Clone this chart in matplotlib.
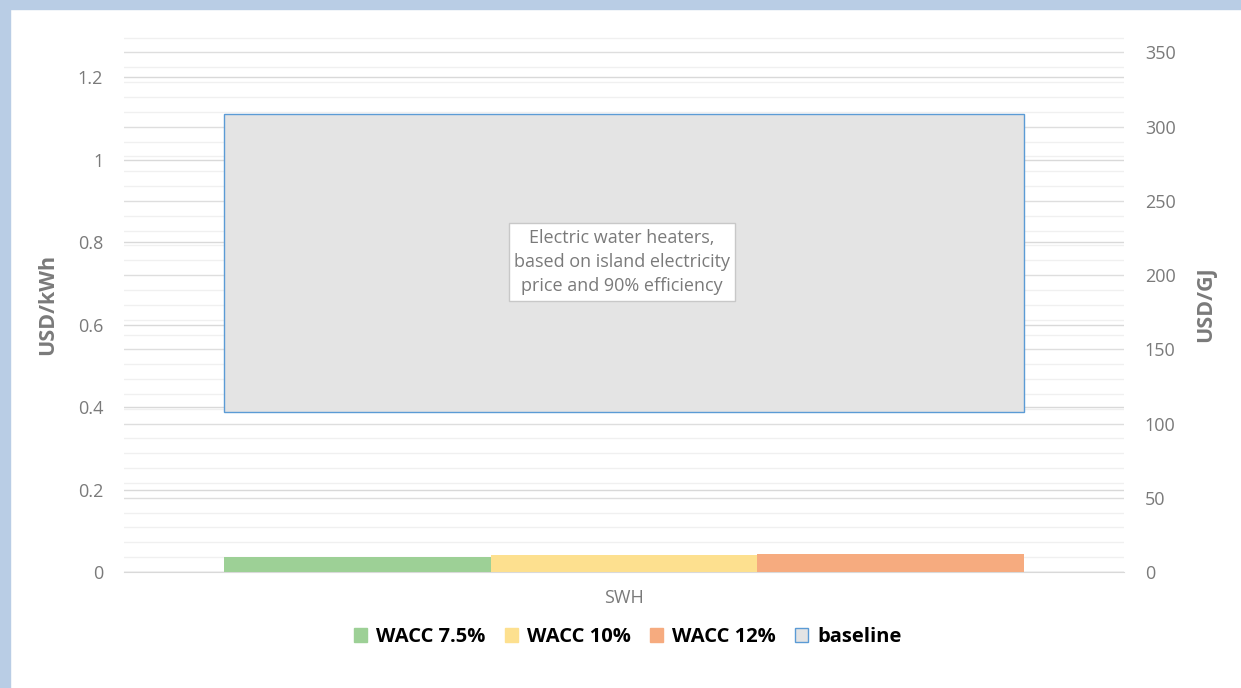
import matplotlib
matplotlib.use("Agg")
import matplotlib.pyplot as plt
from matplotlib.patches import Rectangle, Patch
from matplotlib.ticker import MultipleLocator
import numpy as np

# data
category = ["SWH"]
series = ["WACC 7.5%", "WACC 10%", "WACC 12%"]
lcoh_usd_kwh = [0.036, 0.041, 0.044]
baseline_low = 0.388
baseline_high = 1.110
box_text = "Electric water heaters,\nbased on island electricity\nprice and 90% efficiency"

colors = ["#9dd096", "#fde08f", "#f6ab7f"]
gray = "#7a7a7a"
kwh_per_gj = 1 / 0.0036

plt.rcParams['font.family'] = ['Open Sans', 'DejaVu Sans']

fig = plt.figure(figsize=(12.41, 6.88), dpi=100)
# light blue frame on top and left
fig.patches.append(Rectangle((0, 0), 10 / 1241, 1, transform=fig.transFigure,
                             color="#b9cde5", zorder=0))
fig.patches.append(Rectangle((0, 1 - 9 / 688), 1, 9 / 688, transform=fig.transFigure,
                             color="#b9cde5", zorder=0))

ax = fig.add_axes([124 / 1241, 1 - 572 / 688, 1000 / 1241, 536 / 688])
ax2 = ax.twinx()

ymax = 1.3
ax.set_xlim(-0.5, 0.5)
ax.set_ylim(0, ymax)
ax2.set_ylim(0, ymax * kwh_per_gj)

# gridlines: right minor, right major, left major
ax2.yaxis.set_major_locator(MultipleLocator(50))
ax2.yaxis.set_minor_locator(MultipleLocator(10))
ax2.grid(which="minor", color="#f0f0f0", lw=1.0)
ax2.grid(which="major", color="#dedede", lw=1.0)
ax.yaxis.set_major_locator(MultipleLocator(0.2))
ax.grid(axis="y", which="major", color="#d9d9d9", lw=1.0)
ax.set_axisbelow(True)
ax2.set_zorder(0)
ax.set_zorder(1)
ax.patch.set_visible(False)

w = 0.8 / len(series)
xs = np.arange(len(series)) * w - 0.4 + w / 2
for x, v, c, lab in zip(xs, lcoh_usd_kwh, colors, series):
    ax.bar(x, v, width=w, color=c, label=lab, zorder=3)
ax.bar(0, baseline_high - baseline_low, bottom=baseline_low, width=0.8,
       color="#e4e4e4", edgecolor="#5b9bd5", lw=1.0, label="baseline", zorder=2)

ax.text(-0.002, 0.752, box_text, ha="center", va="center", fontsize=13, color=gray,
        linespacing=1.45, zorder=4,
        bbox=dict(boxstyle="square,pad=0.3", fc="white", ec="#c8c8c8", lw=1.0))

for a in (ax, ax2):
    for s in a.spines.values():
        s.set_visible(False)
    a.tick_params(axis="y", length=0, labelsize=13, labelcolor=gray, pad=15)
    a.tick_params(axis="y", which="minor", length=0)
ax.spines["bottom"].set_visible(True)
ax.spines["bottom"].set_color("#d9d9d9")
ax.set_xticks([0])
ax.set_xticklabels(category)
ax.tick_params(axis="x", length=0, labelsize=13, labelcolor=gray, pad=12)
ax.yaxis.set_major_formatter(matplotlib.ticker.FuncFormatter(
    lambda v, p: "0" if v == 0 else ("1" if abs(v - 1) < 1e-9 else f"{v:.1f}")))
ax.set_yticks(np.arange(0, 1.21, 0.2))
ax2.set_yticks(np.arange(0, 351, 50))

ax.set_ylabel("USD/kWh", fontsize=15.5, fontweight="bold", color=gray, labelpad=14)
ax2.set_ylabel("USD/GJ", fontsize=15.5, fontweight="bold", color=gray, rotation=90,
               labelpad=14)

handles = [Patch(fc=c, ec=c) for c in colors] + [Patch(fc="#e4e4e4", ec="#5b9bd5")]
labels = series + ["baseline"]
fig.legend(handles, labels, loc="center", bbox_to_anchor=(628 / 1241, 1 - 637 / 688),
           ncol=4, frameon=False, handlelength=0.65, handleheight=0.65,
           handletextpad=0.45, columnspacing=0.95,
           prop=dict(size=14.5, weight="bold"))

fig.savefig("out.png", dpi=100)
